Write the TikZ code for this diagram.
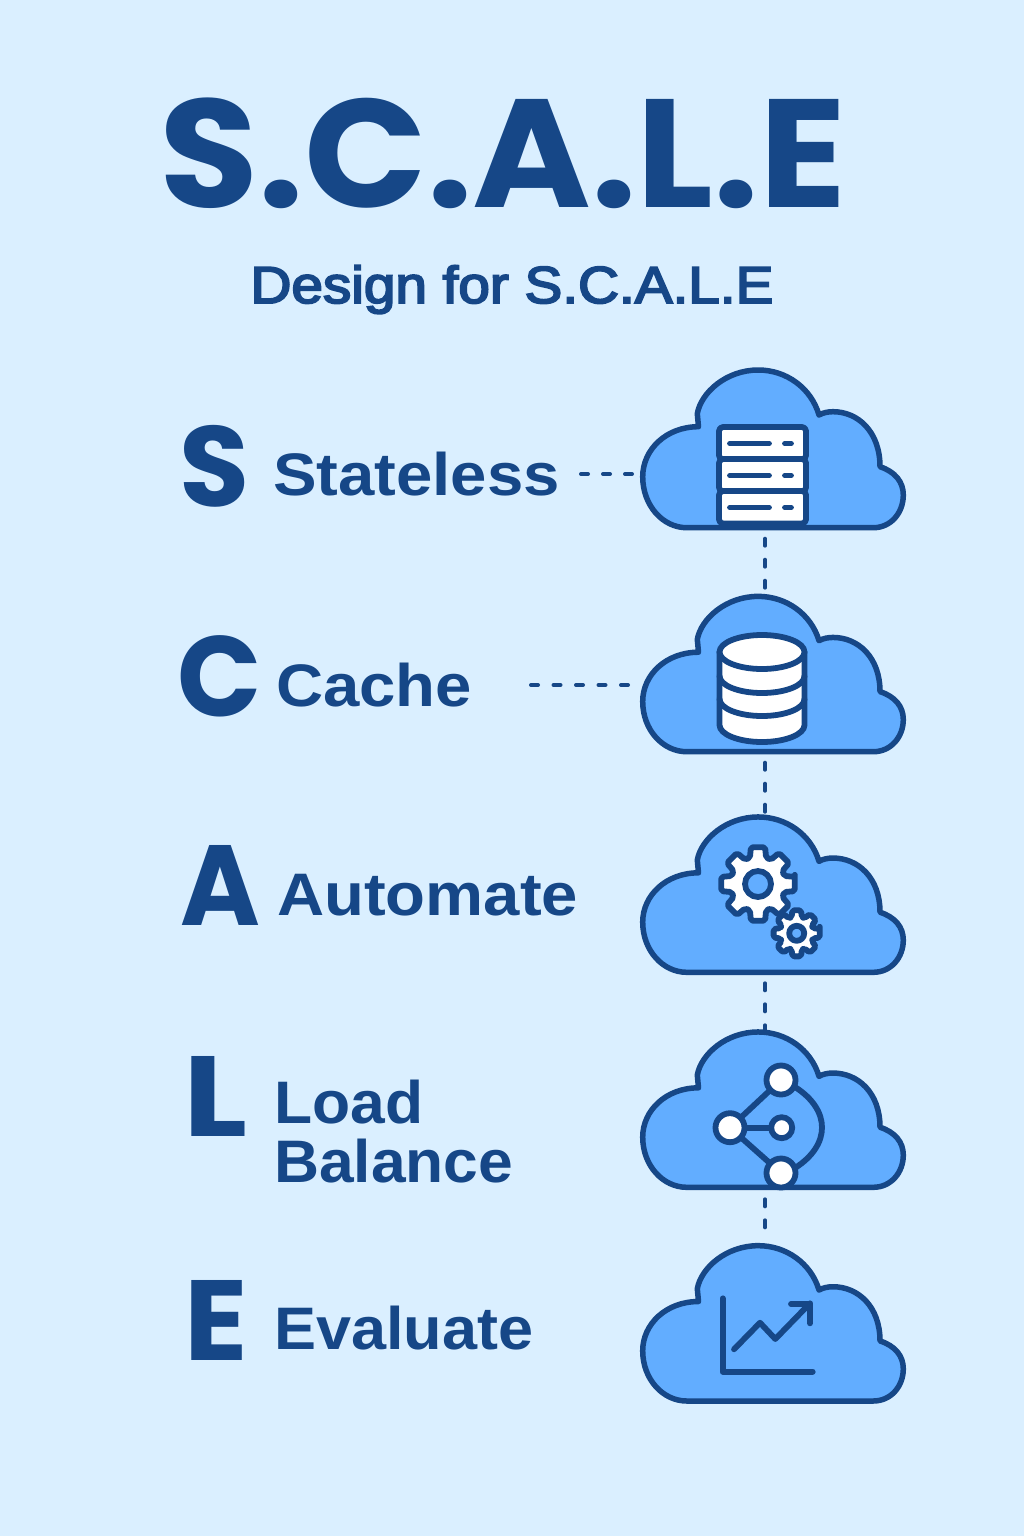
\documentclass[tikz,border=0pt]{standalone}
\usepackage{fontspec}
\setmainfont{Liberation Sans}
\newfontfamily\titlefont{Poppins}
\newfontfamily\labelfont{Liberation Sans}[FakeBold=3.5]
\usetikzlibrary{calc}
\definecolor{bgblue}{RGB}{218,239,255}
\definecolor{inkblue}{RGB}{22,71,135}
\definecolor{cloudblue}{RGB}{98,173,255}
\tikzset{
	letter/.style = {anchor=base west, inner sep=0, text=inkblue, font=\fontsize{114}{114}\titlefont\bfseries},
	term/.style = {anchor=base west, inner sep=0, text=inkblue, xscale=1.088, font=\fontsize{60}{60}\selectfont\bfseries},
	link/.style = {draw=inkblue, line width=4, line cap=round, dash pattern=on 7 off 14},
	icon/.style = {draw=inkblue, line width=5.8, line join=round, line cap=round},
	pics/cloudshape/.style = {code = {
		\draw[draw=inkblue, fill=cloudblue, line width=5.5, line join=round] (45.7,0) -- (232.3,0)
			.. controls (250,0) and (262.3,-15) .. (262.3,-32.7)
			.. controls (262.3,-46) and (254,-56) .. (239,-61)
			.. controls (239,-96) and (217,-116) .. (192,-116)
			.. controls (187,-116) and (182,-115) .. (178,-112.7)
			.. controls (170,-140) and (145,-157.7) .. (117.3,-157.7)
			.. controls (85,-157.7) and (60,-135) .. (56.3,-114)
			-- (57.5,-101)
			.. controls (25,-101) and (1.7,-78) .. (1.7,-51)
			.. controls (1.7,-22) and (22,0) .. (45.7,0) -- cycle;
		\coordinate (-west) at (-7,-54);
		\coordinate (-south) at (124,0);
		\coordinate (-north) at (124,-157);
	}},
	pics/gear/.style n args = {3}{code = {
		\draw[icon, fill=white, rounded corners=2] (-11:#1)
			\foreach \a in {0,45,...,315} { -- (\a-11:#1) -- (\a+11:#1) -- (\a+17:#2) -- (\a+28:#2) } -- cycle;
		\draw[icon, fill=cloudblue] (0,0) circle (#3);
	}},
}
\begin{document}
\begin{tikzpicture}[x=1pt, y=-1pt]
	\path[use as bounding box, fill=bgblue] (0,0) rectangle (1024,1536);

% title
	\node[anchor=base, inner sep=0, text=inkblue, xscale=1.047, font=\fontsize{154}{154}\titlefont\bfseries] (title) at (503,207) {S.C.A.L.E};
	\node[anchor=base, inner sep=0, text=inkblue, xscale=1.09, font=\fontsize{52}{52}\labelfont] (subtitle) at (512,303) {Design for S.C.A.L.E};

% letters and terms
	\node[letter] (letterS) at (179,506) {S};
	\node[letter, xscale=.97] (letterC) at (177,716) {C};
	\node[letter, xscale=.95] (letterA) at (180,925) {A};
	\node[letter, xscale=1.18] (letterL) at (183,1136) {L};
	\node[letter, xscale=1.03] (letterE) at (184,1360) {E};

	\node[term] (termS) at (273,495) {Stateless};
	\node[term] (termC) at (276,706) {Cache};
	\node[term] (termA) at (277,915) {Automate};
	\node[term, xscale=.955] (termL) at (274,1123) {Load};
	\node[term, xscale=.955] (termB) at (274,1182) {Balance};
	\node[term, xscale=.965] (termE) at (274,1349) {Evaluate};

% clouds
	\pic (cloudS) at (641,527.7) {cloudshape};
	\pic[yscale=.985] (cloudC) at (641,751.7) {cloudshape};
	\pic[yscale=.985] (cloudA) at (641,972.3) {cloudshape};
	\pic[yscale=.985] (cloudL) at (641,1187.3) {cloudshape};
	\pic[yscale=.985] (cloudE) at (641,1401) {cloudshape};

% dotted links
	\coordinate (startS) at (581,474);
	\coordinate (startC) at (531,685);
	\draw[link, dash pattern=on 7 off 15] (startS) -- (startS -| cloudS-west);
	\draw[link, dash pattern=on 7 off 15.5] (startC) -- (startC -| cloudC-west);
	\draw[link, shorten <=11, shorten >=5] (cloudS-south) -- (cloudC-north);
	\draw[link, shorten <=11, shorten >=5] (cloudC-south) -- (cloudA-north);
	\draw[link, shorten <=11, shorten >=2] (cloudA-south) -- (cloudL-north);
	\draw[link, shorten <=12, shorten >=8] (cloudL-south) -- (cloudE-north);

% server
	\foreach \y in {427,459,491} {
		\draw[icon, fill=white, rounded corners=4] (719,\y) rectangle (806,\y+32.5);
		\draw[icon] (730,\y+16.5) -- (769,\y+16.5);
		\draw[icon] (785,\y+16.5) -- (791,\y+16.5);
	}

% database
	\draw[icon, fill=white] (719.5,652) -- (719.5,725) arc[start angle=180, end angle=0, x radius=42.5, y radius=17] -- (804.5,652) -- cycle;
	\draw[icon] (719.5,676) arc[start angle=180, end angle=0, x radius=42.5, y radius=17];
	\draw[icon] (719.5,699) arc[start angle=180, end angle=0, x radius=42.5, y radius=17];
	\draw[icon, fill=white] (762,652) ellipse[x radius=42.5, y radius=17];

% gears
	\pic at (758,884) {gear={37.5}{27.5}{13}};
	\pic at (796.7,933.3) {gear={23.5}{17}{7.5}};

% balancer
	\draw[icon] (795,1087) .. controls (831,1110) and (831,1145) .. (795,1168);
	\draw[icon] (730,1127.7) -- (781,1080);
	\draw[icon] (730,1127.7) -- (781,1173);
	\draw[icon] (730,1127.7) -- (781.7,1127.7);
	\draw[icon, fill=white] (781,1080) circle (14.5);
	\draw[icon, fill=white] (730,1127.7) circle (14.5);
	\draw[icon, fill=white] (781.7,1127.7) circle (10.5);
	\draw[icon, fill=white] (781,1173) circle (14.5);

% chart
	\draw[icon] (722.7,1298.3) -- (722.7,1371.7) -- (812.7,1371.7);
	\draw[icon] (734,1349.3) -- (760,1322.7) -- (775.3,1339) -- (810,1303.3);
	\draw[icon] (791,1304) -- (810,1304) -- (810,1323.3);
\end{tikzpicture}
\end{document}
